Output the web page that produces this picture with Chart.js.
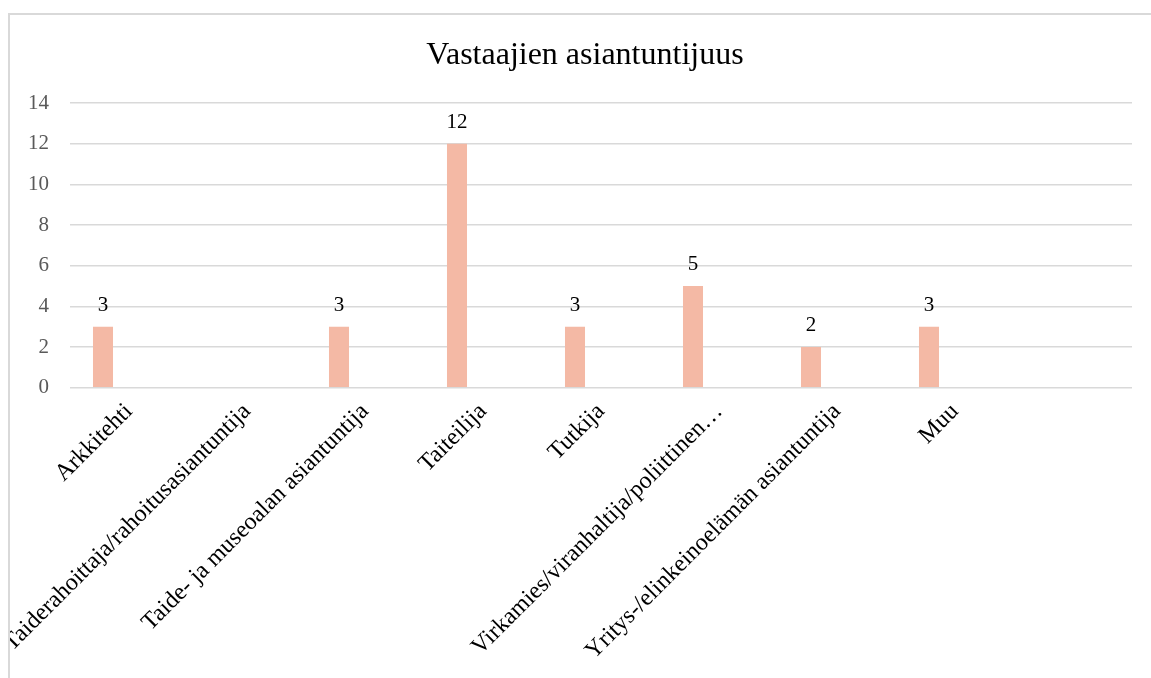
<!DOCTYPE html>
<html lang="fi">
<head>
<meta charset="utf-8">
<title>Vastaajien asiantuntijuus</title>
<script src="https://cdn.jsdelivr.net/npm/chart.js@4.4.1/dist/chart.umd.min.js"></script>
<style>
    html, body { margin: 0; padding: 0; background: #ffffff; overflow: hidden; }
    #kehys {
        position: absolute;
        left: 8px;
        top: 13px;
        width: 1170px;
        height: 700px;
        border-top: 2px solid #d9d9d9;
        border-left: 2px solid #d9d9d9;
        overflow: hidden;
    }
    #kaavioAlue { position: absolute; left: 0; top: 0; width: 1160px; height: 663px; }
</style>
</head>
<body>
<div id="kehys">
    <div id="kaavioAlue"><canvas id="kaavio"></canvas></div>
</div>
<script>
// Kategoriat (viimeinen on tyhjä, kuten alkuperäisessä)
const kategoriat = [
    'Arkkitehti',
    'Taiderahoittaja/rahoitusasiantuntija',
    'Taide- ja museoalan asiantuntija',
    'Taiteilija',
    'Tutkija',
    'Virkamies/viranhaltija/poliittinen…',
    'Yritys-/elinkeinoelämän asiantuntija',
    'Muu',
    ''
];

// Vastaajien määrät
const vastaajat = [3, null, 3, 12, 3, 5, 2, 3, null];

// Tyhjät sarjat (alkuperäisessä kaaviossa varaavat tilaa palkin oikealla puolella)
const tyhjaSarja1 = [null, null, null, null, null, null, null, null, null];
const tyhjaSarja2 = [null, null, null, null, null, null, null, null, null];

// Y-akselin asteikko
const yMin = 0;
const yMax = 14;
const yAskel = 2;

const fontti = "'Liberation Serif', 'Times New Roman', serif";

// Arvot palkkien yläpuolelle
const arvoTekstit = {
    id: 'arvoTekstit',
    afterDatasetsDraw(chart) {
        const ctx = chart.ctx;
        const meta = chart.getDatasetMeta(0);
        ctx.save();
        ctx.font = '21px ' + fontti;
        ctx.fillStyle = '#000000';
        ctx.textAlign = 'center';
        ctx.textBaseline = 'alphabetic';
        meta.data.forEach((palkki, i) => {
            const arvo = chart.data.datasets[0].data[i];
            if (arvo === null || arvo === undefined) return;
            ctx.fillText(String(arvo), palkki.x, palkki.y - 16);
        });
        ctx.restore();
    }
};

const ctx = document.getElementById('kaavio').getContext('2d');
new Chart(ctx, {
    type: 'bar',
    data: {
        labels: kategoriat,
        datasets: [
            { data: vastaajat, backgroundColor: '#F4B9A5', borderWidth: 0 },
            { data: tyhjaSarja1, backgroundColor: '#F4B9A5', borderWidth: 0 },
            { data: tyhjaSarja2, backgroundColor: '#F4B9A5', borderWidth: 0 }
        ]
    },
    options: {
        responsive: true,
        maintainAspectRatio: false,
        animation: false,
        categoryPercentage: 0.661,
        barPercentage: 0.77,
        layout: { padding: { left: 0, right: 10, top: 0, bottom: 0 } },
        plugins: {
            legend: { display: false },
            tooltip: { enabled: false },
            title: {
                display: true,
                text: 'Vastaajien asiantuntijuus',
                color: '#000000',
                font: { family: fontti, size: 32, weight: 'normal', lineHeight: 1.2 },
                padding: { top: 21, bottom: 28.6 }
            }
        },
        scales: {
            x: {
                grid: { display: false, drawTicks: false },
                border: { display: false },
                ticks: {
                    autoSkip: false,
                    maxRotation: 45,
                    minRotation: 45,
                    padding: 10,
                    color: '#000000',
                    font: { family: fontti, size: 24 }
                },
                afterFit(scale) { scale.height = 290.3; }
            },
            y: {
                min: yMin,
                max: yMax,
                grid: { color: '#d9d9d9', lineWidth: 1.5, drawTicks: false },
                border: { display: false },
                ticks: {
                    stepSize: yAskel,
                    padding: 21,
                    color: '#595959',
                    font: { family: fontti, size: 21 }
                },
                afterFit(scale) { scale.width = 60; }
            },
            // Tyhjä tila piirtoalueen oikealla puolella
            oikea: {
                type: 'linear',
                position: 'right',
                display: true,
                grid: { display: false, drawTicks: false },
                border: { display: false },
                ticks: { display: false },
                afterFit(scale) { scale.width = 28; }
            }
        }
    },
    plugins: [arvoTekstit]
});
</script>
</body>
</html>
